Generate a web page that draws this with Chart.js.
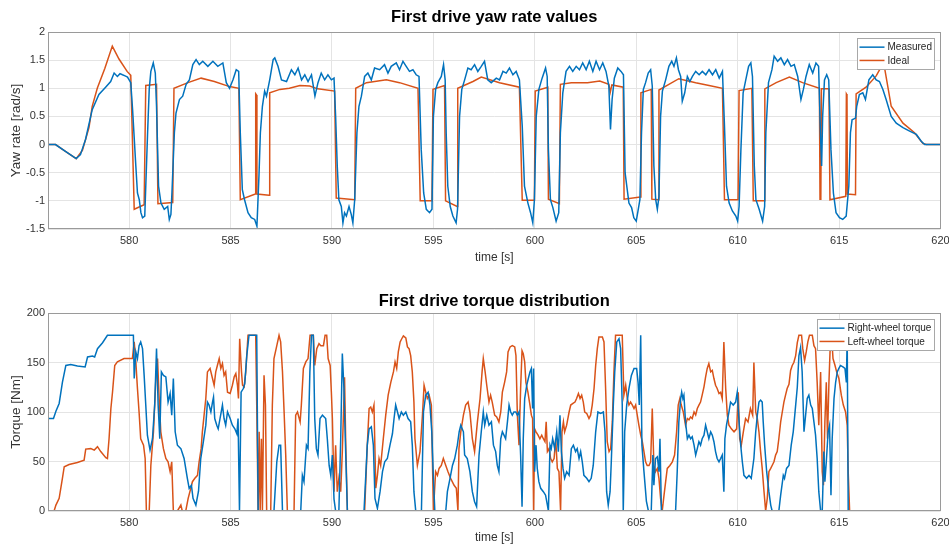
<!DOCTYPE html>
<html>
<head>
<meta charset="utf-8">
<script src="https://cdn.jsdelivr.net/npm/chart.js@4.4.1/dist/chart.umd.min.js"></script>
<style>
  html, body { margin: 0; padding: 0; background: #fff; }
  #wrap { position: relative; width: 949px; height: 545px; overflow: hidden; }
  #yawChart { position: absolute; left: 0; top: 0; }
  #torqueChart { position: absolute; left: 0; top: 272px; }
</style>
</head>
<body>
<div id="wrap">
  <canvas id="yawChart" width="949" height="272"></canvas>
  <canvas id="torqueChart" width="949" height="273"></canvas>
</div>
<script>
// ---- data: [time s, value] ----
const timeTicks = [580, 585, 590, 595, 600, 605, 610, 615, 620];
const yawTicks = [-1.5, -1, -0.5, 0, 0.5, 1, 1.5, 2];
const torqueTicks = [0, 50, 100, 150, 200];

const measuredYaw = [
[576.0,0],[576.37,0],[576.86,-0.12],[577.39,-0.25],[577.6,-0.18],[577.85,0.09],[578.18,0.62],[578.51,0.89],[578.84,1.02],[579.09,1.12],
[579.26,1.27],[579.42,1.21],[579.55,1.26],[579.67,1.24],[579.8,1.22],[579.92,1.2],[580.08,1.1],[580.17,0.62],[580.33,-0.38],[580.41,-0.86],
[580.5,-0.98],[580.58,-1.21],[580.66,-1.3],[580.77,-1.27],[580.91,0.21],[580.99,0.98],[581.07,1.3],[581.19,1.45],[581.29,1.27],[581.35,0.68],
[581.45,-0.74],[581.57,-1.04],[581.73,-1.15],[581.9,-1.1],[581.98,-1.33],[582.06,-1.24],[582.11,-0.86],[582.23,0.21],[582.31,0.56],[582.48,0.8],
[582.64,0.86],[582.81,1.07],[582.97,1.15],[583.14,1.42],[583.3,1.51],[583.46,1.42],[583.63,1.48],[583.88,1.39],[584.13,1.48],[584.37,1.39],
[584.62,1.45],[584.79,1.1],[584.95,1.0],[585.12,1.15],[585.28,1.33],[585.4,1.3],[585.48,0.21],[585.58,-0.8],[585.69,-0.98],[585.86,-1.21],
[586.02,-1.3],[586.19,-1.33],[586.3,-1.45],[586.4,-0.56],[586.47,0.21],[586.57,0.68],[586.68,0.95],[586.77,0.86],[586.93,1.15],[587.1,1.51],
[587.18,1.54],[587.34,1.39],[587.51,1.15],[587.76,1.12],[588.0,1.33],[588.17,1.24],[588.33,1.36],[588.5,1.15],[588.66,1.24],[588.82,1.12],
[588.99,1.24],[589.16,0.86],[589.31,1.1],[589.47,1.27],[589.64,1.15],[589.8,1.24],[589.97,1.15],[590.1,1.18],[590.18,0.5],[590.26,-0.38],
[590.34,-0.98],[590.46,-1.1],[590.54,-1.39],[590.62,-1.21],[590.71,-1.27],[590.84,-1.1],[590.95,-1.24],[591.03,-1.39],[591.12,-0.98],[591.23,0.21],
[591.33,0.68],[591.45,0.86],[591.61,1.21],[591.77,1.27],[591.94,1.15],[592.1,1.36],[592.35,1.33],[592.59,1.42],[592.76,1.27],[592.92,1.39],
[593.17,1.45],[593.33,1.33],[593.5,1.48],[593.66,1.39],[593.82,1.3],[593.99,1.33],[594.15,1.24],[594.29,1.21],[594.4,-0.09],[594.52,-0.86],
[594.65,-1.15],[594.81,-1.21],[594.93,-1.15],[595.0,0.5],[595.11,0.98],[595.22,1.1],[595.39,1.21],[595.5,1.42],[595.58,1.15],[595.63,0.21],
[595.71,-0.74],[595.83,-1.1],[595.96,-1.27],[596.12,-1.39],[596.19,-1.15],[596.29,0.5],[596.4,0.98],[596.54,1.15],[596.7,1.36],[596.86,1.33],
[597.03,1.42],[597.19,1.3],[597.36,1.39],[597.52,1.48],[597.68,1.15],[597.85,1.1],[598.1,1.18],[598.26,1.15],[598.43,1.3],[598.59,1.27],
[598.75,1.36],[598.92,1.24],[599.08,1.3],[599.24,1.15],[599.38,0.33],[599.49,-0.74],[599.66,-1.04],[599.79,-1.21],[599.9,-1.39],[599.98,-0.98],
[600.07,0.5],[600.2,0.98],[600.36,1.18],[600.53,1.36],[600.61,1.21],[600.67,-0.09],[600.77,-0.98],[600.89,-1.12],[601.05,-1.36],[601.18,-1.21],
[601.26,0.21],[601.38,0.92],[601.54,1.3],[601.71,1.39],[601.87,1.3],[602.04,1.39],[602.2,1.33],[602.36,1.45],[602.53,1.33],[602.69,1.48],
[602.86,1.3],[603.02,1.48],[603.19,1.33],[603.35,1.45],[603.51,1.3],[603.65,1.04],[603.73,0.27],[603.81,0.8],[603.92,1.18],[604.09,1.36],
[604.25,1.3],[604.37,1.24],[604.45,-0.5],[604.64,-1.04],[604.77,-1.12],[604.88,-1.3],[605.0,-1.36],[605.1,-1.15],[605.18,-0.98],[605.26,0.21],
[605.35,0.98],[605.46,1.1],[605.59,1.27],[605.71,1.33],[605.79,1.04],[605.87,-0.38],[605.96,-0.98],[606.04,-1.15],[606.12,-0.92],[606.2,0.5],
[606.29,0.95],[606.45,1.15],[606.61,1.39],[606.75,1.48],[606.86,1.39],[606.98,1.54],[607.08,1.33],[607.19,1.21],[607.27,0.77],[607.39,0.92],
[607.52,1.21],[607.64,1.12],[607.77,1.21],[607.93,1.3],[608.1,1.24],[608.26,1.3],[608.43,1.24],[608.59,1.33],[608.76,1.24],[608.92,1.33],
[609.09,1.18],[609.25,1.3],[609.35,0.33],[609.45,-0.74],[609.58,-1.04],[609.74,-1.18],[609.91,-1.27],[610.0,-1.36],[610.07,-1.1],[610.16,-0.09],
[610.27,0.92],[610.4,1.15],[610.54,1.39],[610.65,1.45],[610.73,1.21],[610.82,-0.38],[610.9,-0.98],[611.06,-1.15],[611.23,-1.36],[611.33,-1.1],
[611.39,0.21],[611.52,1.1],[611.69,1.33],[611.8,1.57],[611.97,1.48],[612.13,1.54],[612.3,1.42],[612.46,1.51],[612.63,1.39],[612.79,1.42],
[612.96,1.21],[613.12,0.8],[613.24,0.98],[613.37,1.21],[613.53,1.42],[613.7,1.27],[613.86,1.45],[613.99,1.39],[614.08,0.21],[614.14,-0.38],
[614.19,0.5],[614.28,1.15],[614.39,1.24],[614.49,1.15],[614.6,-0.09],[614.72,-0.86],[614.85,-1.21],[615.02,-1.3],[615.18,-1.33],[615.35,-1.27],
[615.48,-0.74],[615.56,0.21],[615.64,0.44],[615.81,0.47],[615.87,0.68],[616.0,0.89],[616.17,0.92],[616.3,0.8],[616.47,1.15],[616.66,1.24],
[616.83,1.15],[616.99,1.12],[617.16,0.98],[617.32,0.8],[617.57,0.5],[617.82,0.38],[618.15,0.3],[618.48,0.24],[618.81,0.18],[619.05,0.06],
[619.22,0],[620,0]
];

const idealYaw = [
[576.0,0],[576.37,0],[576.86,-0.12],[577.39,-0.25],[577.7,-0.1],[578.02,0.3],[578.18,0.68],[578.43,1.0],[578.8,1.35],[579.17,1.75],
[579.5,1.52],[579.9,1.3],[580.08,1.23],[580.25,-1.15],[580.74,-1.07],[580.82,1.05],[581.35,1.07],[581.42,-1.05],[582.15,-1.03],[582.21,1.0],
[582.9,1.1],[583.55,1.18],[584.2,1.12],[584.95,1.03],[585.41,1.0],[585.48,-0.98],[586.22,-0.88],[586.24,0.9],[586.28,0.88],[586.3,-0.88],
[586.9,-0.9],[586.93,0.92],[587.43,0.98],[587.9,1.0],[588.42,1.05],[588.9,1.04],[589.3,0.99],[590.13,0.95],[590.21,-0.95],[591.12,-0.98],
[591.17,1.0],[591.7,1.1],[592.68,1.15],[593.33,1.1],[594.24,1.0],[594.35,-1.0],[594.93,-1.0],[594.98,0.98],[595.55,1.05],[595.6,-1.0],
[596.17,-1.1],[596.2,1.0],[596.95,1.12],[597.36,1.2],[598.26,1.1],[599.24,1.02],[599.38,-0.99],[599.98,-0.99],[600.02,0.95],[600.64,1.02],
[600.67,-0.97],[601.21,-1.05],[601.26,1.07],[601.8,1.1],[602.6,1.1],[603.2,1.13],[603.65,1.07],[603.72,0.93],[603.8,1.06],[604.36,1.02],
[604.4,-0.97],[605.2,-0.93],[605.23,0.92],[605.74,0.98],[605.77,-0.97],[606.09,-0.98],[606.12,0.97],[606.61,1.07],[607.1,1.17],[607.93,1.1],
[608.59,1.05],[609.25,1.0],[609.35,-0.98],[610.02,-0.98],[610.07,0.96],[610.7,1.0],[610.77,-1.0],[611.31,-1.0],[611.34,0.99],[611.9,1.1],
[612.55,1.2],[613.2,1.1],[614.03,1.0],[614.06,-0.97],[614.1,-0.95],[614.13,0.99],[614.5,0.99],[614.55,-0.98],[615.33,-0.92],[615.36,0.9],
[615.39,0.88],[615.41,-0.88],[615.81,-0.89],[615.84,0.9],[616.33,1.02],[616.83,1.22],[617.0,1.33],[617.2,1.45],[617.57,0.68],[618.15,0.38],
[618.72,0.21],[619.13,0.02],[619.3,0],[620,0]
];

const rightTorque = [
[576.0,93.4],[576.27,93.4],[576.39,100.8],[576.55,108.6],[576.71,130],[576.88,147],[577.12,148],[577.45,146.5],[577.83,145.5],[577.95,155.6],
[578.19,156.6],[578.3,155.6],[578.44,164],[578.69,170],[578.93,177.5],[580.21,177.5],[580.25,133.8],[580.33,160.7],[580.41,154],[580.49,167],
[580.57,170.8],[580.66,164],[580.74,137],[580.82,107],[580.9,76.6],[581.03,61.5],[581.15,73],[581.26,107],[581.35,164],[581.43,107],
[581.51,73],[581.59,140.5],[581.69,137],[581.81,135.5],[581.92,110],[582.02,118.7],[582.1,96.8],[582.18,133.8],[582.27,80],[582.38,66.5],
[582.55,63],[582.71,53],[582.87,33],[582.96,22.9],[583.07,26],[583.15,12.8],[583.29,6],[583.42,20],[583.53,53],[583.66,70],
[583.78,86.7],[583.86,110],[583.94,107],[584.03,100],[584.11,110],[584.16,115],[584.22,93.4],[584.32,86.7],[584.39,83],[584.48,93.4],
[584.6,107],[584.68,93.4],[584.76,86.7],[584.85,100],[584.98,93.4],[585.09,86.7],[585.21,83],[585.31,78],[585.37,93.4],[585.44,0],
[585.52,120],[585.63,123.7],[585.7,128.7],[585.8,157],[585.91,177.5],[586.29,177.5],[586.36,0],[587.14,0],[587.28,49.7],[587.39,66.5],
[587.47,66.5],[587.56,0],[588.46,0],[588.54,36],[588.62,29.6],[588.74,66.5],[588.82,63],[588.91,140.5],[588.99,177.5],[589.08,177.5],
[589.15,93.4],[589.23,63],[589.31,56.5],[589.41,93.4],[589.53,96.8],[589.69,93.4],[589.77,73],[589.86,46],[589.94,36],[590.02,56.5],
[590.1,12],[590.18,0],[590.34,0],[590.43,73],[590.51,159],[590.59,123.7],[590.68,56],[590.76,0],[591.58,0],[591.74,66.5],
[591.83,83],[591.94,85],[592.04,66.5],[592.12,12.8],[592.24,2.7],[592.37,19.5],[592.49,39.7],[592.6,49.7],[592.73,53],[592.86,66.5],
[592.98,78],[593.06,93.4],[593.14,107],[593.23,100],[593.31,93.4],[593.42,100],[593.52,96.8],[593.64,100],[593.75,93.4],[593.88,90],
[593.96,66.5],[594.04,19.5],[594.13,0],[594.41,0],[594.51,100],[594.62,117],[594.74,120],[594.83,107],[594.92,80],[595.0,33],
[595.07,0],[595.61,0],[595.69,19.5],[595.82,33],[595.94,46],[596.05,53],[596.18,66.5],[596.27,80],[596.35,86.7],[596.48,80],
[596.54,56.5],[596.67,53],[596.8,39.7],[596.92,19.5],[597.03,9.4],[597.13,4.4],[597.25,56.5],[597.36,80],[597.46,100],[597.53,86.7],
[597.63,96.8],[597.74,86.7],[597.86,90],[597.96,66.5],[598.07,60],[598.15,46],[598.23,39.7],[598.32,73],[598.4,80],[598.48,76.6],
[598.56,73],[598.65,90],[598.73,107],[598.81,100],[598.89,96.8],[598.97,100],[599.06,100],[599.14,96.8],[599.22,100],[599.3,56.5],
[599.37,4.4],[599.43,73],[599.5,113.6],[599.6,127],[599.68,133.8],[599.76,140.5],[599.83,144],[599.89,103.5],[599.94,144],[599.99,39.7],
[600.06,66.5],[600.12,43],[600.2,29.6],[600.29,22.9],[600.42,19.5],[600.53,16],[600.62,6],[600.67,0],[600.75,66.5],[600.81,63],
[600.88,73],[600.98,63],[601.08,80],[601.16,60],[601.24,96.8],[601.31,60],[601.39,43],[601.47,33],[601.57,39.7],[601.69,36],
[601.8,63],[601.9,66.5],[602.01,60],[602.09,63],[602.18,53],[602.26,60],[602.34,49.7],[602.42,36],[602.56,33],[602.67,29.6],
[602.78,33],[602.88,46],[603.0,80],[603.11,100],[603.24,98.5],[603.38,100],[603.46,80],[603.54,19.5],[603.62,6],[603.71,19.5],
[603.77,49.7],[603.87,107],[603.94,140.5],[604.04,170.8],[604.15,174],[604.23,164],[604.31,107],[604.36,0],[604.43,80],[604.53,107],
[604.64,123.7],[604.76,137],[604.89,144],[605.02,144],[605.09,130],[605.15,107],[605.22,177.5],[605.28,66.5],[605.38,40],[605.5,10],
[605.6,0],[605.74,0],[605.82,56.5],[605.87,26],[605.95,53],[606.04,54.8],[606.12,39.7],[606.17,73],[606.24,0],[606.94,0],
[607.02,39.7],[607.1,90],[607.19,113.6],[607.24,120],[607.3,113.6],[607.35,117],[607.43,90],[607.52,73],[607.6,76.6],[607.68,73],
[607.76,75],[607.85,66.5],[607.93,56.5],[608.01,63],[608.09,70],[608.17,66.5],[608.25,73],[608.34,76.6],[608.42,86.7],[608.5,80],
[608.58,73],[608.67,80],[608.75,76.6],[608.83,70],[608.91,60],[608.99,53],[609.08,49.7],[609.16,53],[609.24,56.5],[609.32,19.5],
[609.37,73],[609.45,86.7],[609.57,100],[609.65,110],[609.78,107],[609.9,110],[609.98,120],[610.07,90],[610.15,66.5],[610.23,49.7],
[610.31,36],[610.44,33],[610.56,36],[610.67,33],[610.8,53],[610.89,80],[610.97,96.8],[611.05,110],[611.13,112],[611.21,110],
[611.26,90],[611.33,66.5],[611.43,39.7],[611.54,19.5],[611.63,6],[611.7,0],[612.03,0],[612.12,16],[612.25,36],[612.31,33],
[612.41,43],[612.53,46],[612.64,66.5],[612.74,80],[612.86,107],[612.94,125],[613.02,157],[613.1,165],[613.18,140.5],[613.27,80],
[613.35,96.8],[613.43,113.6],[613.51,117],[613.6,107],[613.68,103.5],[613.76,90],[613.84,76.6],[613.92,53],[614.0,19.5],[614.09,0],
[614.17,0],[614.25,60],[614.3,29.6],[614.37,49.7],[614.46,80],[614.53,86.7],[614.6,16],[614.66,73],[614.75,113.6],[614.83,130],
[614.91,140.5],[614.99,144],[615.07,147],[615.19,145.5],[615.29,144],[615.36,130],[615.4,177.5],[615.45,0],[620,0]
];

const leftTorque = [
[576.0,0],[576.3,0],[576.39,6],[576.55,12.8],[576.71,33],[576.8,44.7],[577.04,47],[577.45,49],[577.78,51.4],[577.86,62.5],
[578.11,63],[578.28,61.5],[578.44,65],[578.6,60],[578.85,53.8],[578.93,53],[579.01,73],[579.1,103.5],[579.18,120],[579.29,147],
[579.42,150.6],[579.75,154],[580.16,154],[580.25,170.8],[580.33,150.6],[580.41,123.7],[580.49,100],[580.57,73],[580.71,66.5],[580.79,53],
[580.85,0],[580.99,0],[581.07,46],[581.2,80],[581.31,130],[581.4,154],[581.48,113.6],[581.56,80],[581.69,63],[581.81,53],
[581.92,49.7],[582.02,39.7],[582.1,49.7],[582.18,0],[582.38,0],[582.55,6],[582.62,0],[582.79,0],[582.91,12.8],[583.04,23],
[583.12,29.6],[583.24,33],[583.37,36],[583.45,49.7],[583.55,63],[583.61,80],[583.78,113.6],[583.86,140.5],[583.99,144],[584.11,133.8],
[584.19,127],[584.27,140.5],[584.35,147],[584.44,154],[584.52,144],[584.6,149],[584.68,137],[584.76,140.5],[584.85,120],[584.98,118.7],
[585.09,127],[585.18,135.5],[585.26,138.8],[585.34,127],[585.39,113.6],[585.45,174],[585.54,140.5],[585.59,127],[585.67,125.4],[585.75,140.5],
[585.86,177.5],[586.24,177.5],[586.29,107],[586.36,0],[586.41,80],[586.46,0],[586.52,73],[586.57,0],[586.65,137],[586.72,107],
[586.78,0],[586.98,0],[587.06,107],[587.14,154],[587.28,167],[587.39,177.5],[587.47,170.8],[587.56,140.5],[587.64,100],[587.72,56.5],
[587.8,0],[588.13,0],[588.21,96.8],[588.3,100],[588.43,90],[588.49,107],[588.59,144],[588.71,150.6],[588.82,154],[588.92,177.5],
[589.08,177.5],[589.15,147],[589.25,164],[589.36,169],[589.45,167],[589.58,167],[589.66,177.5],[589.74,177.5],[589.81,154],[589.91,147],
[589.97,120],[590.02,93.4],[590.1,19.5],[590.18,66.5],[590.26,19.5],[590.34,33],[590.43,19.5],[590.51,60],[590.62,135],[590.68,66.5],
[590.76,0],[591.61,0],[591.74,66.5],[591.83,103.5],[591.91,105],[591.99,100],[592.07,107],[592.16,23],[592.24,36],[592.32,53],
[592.4,46],[592.53,73],[592.65,96.8],[592.77,117],[592.9,130],[593.03,140.5],[593.11,150.6],[593.19,144],[593.27,160.7],[593.36,170.8],
[593.44,174],[593.52,176.8],[593.64,174.8],[593.72,165.7],[593.8,164],[593.88,157],[593.96,140.5],[594.04,110],[594.09,73],[594.21,46],
[594.34,60],[594.46,96.8],[594.54,127],[594.62,120],[594.7,113.6],[594.79,117],[594.9,107],[595.0,0],[595.11,39.7],[595.2,36],
[595.28,43],[595.39,46],[595.49,53],[595.61,46],[595.72,39.7],[595.85,33],[596.02,26],[596.13,23],[596.21,0],[596.26,63],
[596.35,80],[596.48,96.8],[596.59,107],[596.71,110],[596.8,100],[596.92,73],[597.03,60],[597.17,90],[597.3,113.6],[597.4,140.5],
[597.46,154],[597.55,140.5],[597.63,127],[597.74,110],[597.82,117],[597.9,110],[598.02,96.8],[598.12,95],[598.23,90],[598.32,100],
[598.4,120],[598.51,130],[598.61,140.5],[598.68,160.7],[598.78,165.7],[598.89,167],[599.01,165.7],[599.07,157],[599.14,96.8],[599.22,66.5],
[599.3,123.7],[599.37,162],[599.43,159],[599.5,150.6],[599.56,130],[599.66,120],[599.76,107],[599.83,96.8],[599.89,93.4],[599.94,0],
[599.99,83],[600.06,80],[600.16,76.6],[600.25,73],[600.34,76.6],[600.42,73],[600.5,70],[600.56,90],[600.62,60],[600.7,63],
[600.78,53],[600.86,49.7],[600.95,53],[601.03,73],[601.11,43],[601.19,39.7],[601.27,0],[601.34,80],[601.41,90],[601.47,80],
[601.57,86.7],[601.69,100],[601.77,107],[601.88,108.6],[601.98,110],[602.06,113.6],[602.15,118.7],[602.23,113.6],[602.31,117],[602.39,110],
[602.46,100],[602.56,98.5],[602.67,93.4],[602.75,96.8],[602.83,107],[602.92,123.7],[603.0,147],[603.08,164],[603.16,175.8],[603.33,175.8],
[603.41,170.8],[603.49,123.7],[603.57,70],[603.66,60],[603.74,63],[603.82,90],[603.9,140.5],[603.98,177.5],[604.31,177.5],[604.39,117],
[604.48,127],[604.56,113.6],[604.64,107],[604.72,110],[604.81,107],[604.89,103.5],[604.97,107],[605.05,96.8],[605.13,86.7],[605.22,76.6],
[605.3,70],[605.38,60],[605.46,49.7],[605.54,46],[605.63,46],[605.71,49.7],[605.79,103.5],[605.87,46],[605.95,39.7],[606.04,43],
[606.12,33],[606.2,12.8],[606.28,0],[606.37,16],[606.45,29.6],[606.53,43],[606.66,46],[606.78,49.7],[606.89,56.5],[606.99,80],
[607.07,107],[607.15,113.6],[607.22,107],[607.32,100],[607.43,86.7],[607.52,93.4],[607.6,92],[607.68,95],[607.76,93.4],[607.85,100],
[607.93,97],[608.01,103.5],[608.09,107],[608.17,110],[608.25,117],[608.34,125.4],[608.42,135.5],[608.5,144],[608.58,149],[608.67,140.5],
[608.75,142],[608.83,133.8],[608.91,127],[608.99,123.7],[609.08,118.7],[609.16,120],[609.24,113.6],[609.32,170.8],[609.41,123.7],[609.49,96.8],
[609.57,86.7],[609.69,83],[609.82,80],[609.95,83],[610.03,120],[610.1,73],[610.18,66.5],[610.28,80],[610.39,93.4],[610.51,90],
[610.63,103.5],[610.74,96.8],[610.8,150],[610.89,100],[610.97,93.4],[611.05,80],[611.13,60],[611.21,43],[611.3,19.5],[611.38,0],
[611.46,12.8],[611.54,39.7],[611.63,43],[611.7,46],[611.79,49.7],[611.87,56.5],[611.95,60],[612.03,73],[612.12,90],[612.2,100],
[612.28,110],[612.36,117],[612.44,123.7],[612.53,128],[612.61,142],[612.69,147],[612.77,150],[612.86,157],[612.94,170],[613.02,177.5],
[613.15,177.5],[613.21,164],[613.3,152],[613.38,160.7],[613.46,170.8],[613.54,177.5],[613.68,177.5],[613.76,167],[613.84,164],[613.92,130],
[614.0,86.7],[614.09,140.5],[614.17,39.7],[614.23,26],[614.3,90],[614.37,130],[614.43,73],[614.5,130],[614.56,164],[614.63,177.5],
[614.7,154],[614.8,147],[614.88,140.5],[614.99,133.8],[615.11,117],[615.21,107],[615.32,100],[615.4,86.7],[615.45,39.7],[615.52,0],
[620,0]
];

// ---- styling ----
const FONT = '"Liberation Sans", Arial, Helvetica, sans-serif';
const BLUE = '#0072BD';
const ORANGE = '#D95319';
const GRID = '#e4e4e4';
const TICK = '#333333';

const toPoints = arr => arr.map(([x, y]) => ({ x, y }));

// axes box drawn around the plotting area
const axesFrame = {
  id: 'axesFrame',
  afterDatasetsDraw(chart) {
    const { ctx, chartArea: a } = chart;
    const x0 = Math.round(a.left) + 0.5, x1 = Math.round(a.right) - 0.5;
    const y0 = Math.round(a.top) + 0.5, y1 = Math.round(a.bottom) - 0.5;
    ctx.save();
    ctx.strokeStyle = '#9a9a9a';
    ctx.lineWidth = 1;
    ctx.strokeRect(x0, y0, x1 - x0, y1 - y0);
    ctx.restore();
  }
};

// title centred over the plotting area
const areaTitle = {
  id: 'areaTitle',
  afterDraw(chart, args, opts) {
    const { ctx, chartArea: a } = chart;
    ctx.save();
    ctx.font = `bold 16.5px ${FONT}`;
    ctx.fillStyle = '#000';
    ctx.textAlign = 'center';
    ctx.textBaseline = 'middle';
    ctx.fillText(opts.text, (a.left + a.right) / 2, opts.y);
    ctx.restore();
  }
};

// boxed legend in the upper-right corner of the plotting area
const innerLegend = {
  id: 'innerLegend',
  afterDraw(chart, args, opts) {
    const { ctx, chartArea: a } = chart;
    const sets = chart.data.datasets;
    ctx.save();
    ctx.font = `10px ${FONT}`;
    const textW = Math.max(...sets.map(d => ctx.measureText(d.label).width));
    const lineLen = 25, rowH = 13.3;
    const w = Math.round(2 + lineLen + 3 + textW + 3);
    const h = Math.round(rowH * sets.length + 4);
    const x = Math.round(a.right - 7 - w) + 0.5;
    const y = Math.round(a.top + 6) + 0.5;
    ctx.fillStyle = '#fff';
    ctx.fillRect(x, y, w, h);
    ctx.strokeStyle = '#a8a8a8';
    ctx.lineWidth = 1;
    ctx.strokeRect(x, y, w, h);
    sets.forEach((d, i) => {
      const cy = y + 2 + rowH * (i + 0.5);
      ctx.strokeStyle = d.borderColor;
      ctx.lineWidth = 1.5;
      ctx.beginPath();
      ctx.moveTo(x + 2, cy);
      ctx.lineTo(x + 2 + lineLen, cy);
      ctx.stroke();
      ctx.fillStyle = '#262626';
      ctx.textAlign = 'left';
      ctx.textBaseline = 'middle';
      ctx.fillText(d.label, x + 2 + lineLen + 3, cy + 0.5);
    });
    ctx.restore();
  }
};

function timeAxis(height, titleBottom) {
  return {
    type: 'linear',
    min: 576,
    max: 620,
    afterBuildTicks: s => { s.ticks = timeTicks.map(v => ({ value: v })); },
    afterFit: s => { s.height = height; s.paddingLeft = 0; s.paddingRight = 0; },
    grid: { color: GRID, drawTicks: false },
    border: { display: false },
    ticks: { padding: 5, color: TICK, font: { family: FONT, size: 11 }, maxRotation: 0, autoSkip: false,
             callback: v => String(v) },
    title: { display: true, text: 'time [s]', color: TICK, font: { family: FONT, size: 12 }, padding: { top: 0, bottom: titleBottom } }
  };
}

function valueAxis(min, max, ticks, label) {
  return {
    type: 'linear',
    min, max,
    afterBuildTicks: s => { s.ticks = ticks.map(v => ({ value: v })); },
    afterFit: s => { s.width = 48; s.paddingTop = 0; s.paddingBottom = 0; },
    grid: { color: GRID, drawTicks: false },
    border: { display: false },
    ticks: { padding: 3, color: TICK, font: { family: FONT, size: 11 }, callback: v => String(v) },
    title: { display: true, text: label, color: TICK, font: { family: FONT, size: 13.5 }, padding: { top: 8.5, bottom: 0 } }
  };
}

function lineSet(label, data, color) {
  return {
    label,
    data: toPoints(data),
    borderColor: color,
    backgroundColor: color,
    borderWidth: 1.5,
    pointRadius: 0,
    tension: 0,
    fill: false
  };
}

function makeChart(id, cfg) {
  return new Chart(document.getElementById(id), {
    type: 'line',
    data: { datasets: cfg.datasets },
    options: {
      responsive: false,
      animation: false,
      events: [],
      layout: { padding: { top: cfg.top, right: 8.5, bottom: 0, left: 0 } },
      scales: {
        x: timeAxis(cfg.xHeight, cfg.xTitleBottom),
        y: valueAxis(cfg.min, cfg.max, cfg.ticks, cfg.yLabel)
      },
      plugins: {
        legend: { display: false },
        tooltip: { enabled: false },
        areaTitle: { text: cfg.title, y: cfg.titleY }
      }
    },
    plugins: [axesFrame, areaTitle, innerLegend]
  });
}

makeChart('yawChart', {
  datasets: [lineSet('Measured', measuredYaw, BLUE), lineSet('Ideal', idealYaw, ORANGE)],
  top: 32, xHeight: 43, xTitleBottom: 7,
  min: -1.5, max: 2, ticks: yawTicks, yLabel: 'Yaw rate [rad/s]',
  title: 'First drive yaw rate values', titleY: 17
});

makeChart('torqueChart', {
  datasets: [lineSet('Right-wheel torque', rightTorque, BLUE), lineSet('Left-wheel torque', leftTorque, ORANGE)],
  top: 41, xHeight: 34, xTitleBottom: 0,
  min: 0, max: 200, ticks: torqueTicks, yLabel: 'Torque [Nm]',
  title: 'First drive torque distribution', titleY: 29
});
</script>
</body>
</html>
